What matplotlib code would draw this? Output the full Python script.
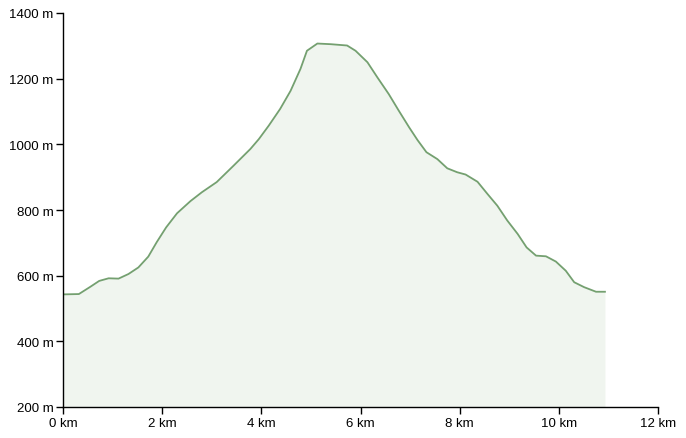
import matplotlib
matplotlib.use("Agg")
import matplotlib.pyplot as plt
from matplotlib.ticker import FuncFormatter

# elevation profile
distance_km = [0.0, 0.32, 0.55, 0.73, 0.92, 1.12, 1.32, 1.52, 1.72, 1.89,
               2.08, 2.30, 2.57, 2.80, 3.10, 3.44, 3.78, 3.95, 4.15, 4.38,
               4.59, 4.79, 4.92, 5.13, 5.40, 5.73, 5.90, 6.14, 6.34, 6.57,
               6.77, 6.98, 7.15, 7.33, 7.55, 7.75, 7.95, 8.12, 8.36, 8.56,
               8.76, 8.96, 9.17, 9.35, 9.54, 9.74, 9.94, 10.14, 10.31, 10.51,
               10.75, 10.93]
elevation_m = [543, 544, 566, 584, 592, 591, 605, 625, 658, 702,
               747, 790, 827, 854, 885, 935, 986, 1016, 1057, 1108,
               1163, 1230, 1285, 1307, 1305, 1301, 1285, 1250, 1204, 1153,
               1103, 1052, 1013, 976, 955, 927, 915, 908, 886, 849,
               813, 768, 727, 686, 661, 659, 643, 615, 580, 565,
               551, 551]

x_ticks = [0, 2, 4, 6, 8, 10, 12]
y_ticks = [200, 400, 600, 800, 1000, 1200, 1400]

plt.rcParams['font.family'] = ['Liberation Sans', 'DejaVu Sans']

fig = plt.figure(figsize=(6.86, 4.39), dpi=100)
ax = fig.add_axes([63 / 686, 31 / 439, 595 / 686, 394 / 439])

ax.fill_between(distance_km, elevation_m, 200, color='#f0f5ef', lw=0)
ax.plot(distance_km, elevation_m, color='#74a070', lw=1.3)

ax.set_xlim(0, 12)
ax.set_ylim(200, 1400)
ax.set_xticks(x_ticks)
ax.set_yticks(y_ticks)
ax.xaxis.set_major_formatter(FuncFormatter(lambda v, p: f"{v:.0f} km"))
ax.yaxis.set_major_formatter(FuncFormatter(lambda v, p: f"{v:.0f} m"))
ax.tick_params(labelsize=9.5, length=5, width=1, pad=2, colors='black')

for s in ['top', 'right']:
    ax.spines[s].set_visible(False)
for s in ['left', 'bottom']:
    ax.spines[s].set_linewidth(1)

fig.savefig("out.png", dpi=100)
